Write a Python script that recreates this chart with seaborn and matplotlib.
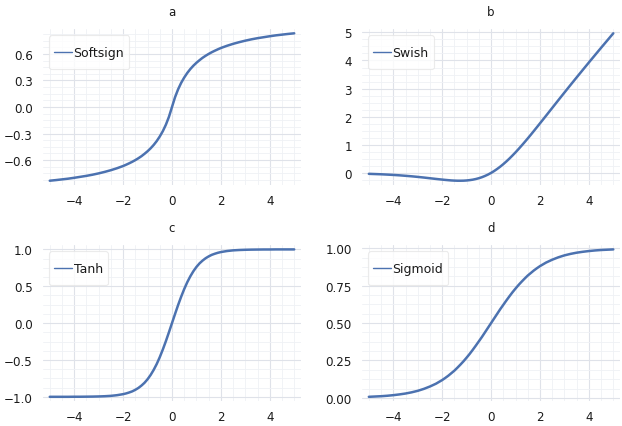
import matplotlib
matplotlib.use("Agg")
import matplotlib.pyplot as plt
from matplotlib.ticker import AutoMinorLocator
import seaborn as sns
import pandas as pd

# x positions (finer steps where they bend most)
x_vals = [-5.0, -4.75, -4.5, -4.25, -4.0, -3.75, -3.5, -3.25, -3.0, -2.75,
          -2.5, -2.25, -2.0, -1.875, -1.75, -1.625, -1.5, -1.375, -1.25, -1.125,
          -1.0, -0.875, -0.75, -0.625, -0.5, -0.375, -0.25, -0.125,
          0.0, 0.125, 0.25, 0.375, 0.5, 0.625, 0.75, 0.875,
          1.0, 1.125, 1.25, 1.375, 1.5, 1.625, 1.75, 1.875, 2.0,
          2.25, 2.5, 2.75, 3.0, 3.25, 3.5, 3.75, 4.0, 4.25, 4.5, 4.75, 5.0]

softsign = [-0.833, -0.826, -0.818, -0.810, -0.800, -0.789, -0.778, -0.765, -0.750, -0.733,
            -0.714, -0.692, -0.667, -0.652, -0.636, -0.619, -0.600, -0.579, -0.556, -0.529,
            -0.500, -0.467, -0.429, -0.385, -0.333, -0.273, -0.200, -0.111,
            0.000, 0.111, 0.200, 0.273, 0.333, 0.385, 0.429, 0.467,
            0.500, 0.529, 0.556, 0.579, 0.600, 0.619, 0.636, 0.652, 0.667,
            0.692, 0.714, 0.733, 0.750, 0.765, 0.778, 0.789, 0.800, 0.810, 0.818, 0.826, 0.833]

swish = [-0.033, -0.041, -0.049, -0.060, -0.072, -0.086, -0.103, -0.121, -0.142, -0.165,
         -0.190, -0.215, -0.238, -0.249, -0.259, -0.268, -0.274, -0.278, -0.278, -0.276,
         -0.269, -0.257, -0.241, -0.218, -0.189, -0.153, -0.109, -0.059,
         0.000, 0.066, 0.141, 0.222, 0.311, 0.407, 0.509, 0.618,
         0.731, 0.849, 0.972, 1.097, 1.226, 1.357, 1.491, 1.626, 1.762,
         2.035, 2.310, 2.585, 2.858, 3.129, 3.397, 3.663, 3.928, 4.190, 4.451, 4.709, 4.967]

tanh = [-1.000, -1.000, -1.000, -1.000, -0.999, -0.999, -0.998, -0.997, -0.995, -0.992,
        -0.987, -0.978, -0.964, -0.954, -0.941, -0.926, -0.905, -0.880, -0.848, -0.810,
        -0.762, -0.704, -0.635, -0.555, -0.462, -0.358, -0.245, -0.124,
        0.000, 0.124, 0.245, 0.358, 0.462, 0.555, 0.635, 0.704,
        0.762, 0.810, 0.848, 0.880, 0.905, 0.926, 0.941, 0.954, 0.964,
        0.978, 0.987, 0.992, 0.995, 0.997, 0.998, 0.999, 0.999, 1.000, 1.000, 1.000, 1.000]

sigmoid = [0.007, 0.009, 0.011, 0.014, 0.018, 0.023, 0.029, 0.037, 0.047, 0.060,
           0.076, 0.095, 0.119, 0.133, 0.148, 0.165, 0.182, 0.202, 0.223, 0.245,
           0.269, 0.294, 0.321, 0.349, 0.378, 0.407, 0.438, 0.469,
           0.500, 0.531, 0.562, 0.593, 0.622, 0.651, 0.679, 0.706,
           0.731, 0.755, 0.777, 0.798, 0.818, 0.835, 0.852, 0.867, 0.881,
           0.905, 0.924, 0.940, 0.953, 0.963, 0.971, 0.977, 0.982, 0.986, 0.989, 0.991, 0.993]

titles = ['a', 'b', 'c', 'd']
names = ['Softsign', 'Swish', 'Tanh', 'Sigmoid']
series = [softsign, swish, tanh, sigmoid]
yticks = [[-0.6, -0.3, 0.0, 0.3, 0.6], [0, 1, 2, 3, 4, 5],
          [-1.0, -0.5, 0.0, 0.5, 1.0], [0.0, 0.25, 0.5, 0.75, 1.0]]

sns.set_theme(style='whitegrid')
plt.rcParams['font.family'] = ['DejaVu Sans']

fig, axes = plt.subplots(2, 2, figsize=(6.22, 4.27), dpi=100)
fig.subplots_adjust(left=0.069, right=0.997, top=0.93, bottom=0.058,
                    wspace=0.236, hspace=0.383)

for ax, letter, name, vals, yt in zip(axes.flat, titles, names, series, yticks):
    df = pd.DataFrame({'x': x_vals, 'y': vals})
    sns.lineplot(data=df, x='x', y='y', ax=ax, color='#4C72B0', lw=1.8, label=name)
    ax.margins(x=0.028, y=0.03)
    ax.set_xticks([-4, -2, 0, 2, 4])
    ax.set_yticks(yt)
    ax.xaxis.set_minor_locator(AutoMinorLocator(4))
    ax.yaxis.set_minor_locator(AutoMinorLocator(4))
    ax.grid(which='major', color='#dfe2e9', lw=0.8)
    ax.grid(which='minor', color='#eff1f5', lw=0.6)
    ax.set_axisbelow(True)
    for s in ax.spines.values():
        s.set_visible(False)
    ax.set_xlabel('')
    ax.set_ylabel('')
    ax.tick_params(which='both', length=0, labelsize=8.6, colors='#1a1a1a')
    ax.tick_params(axis='x', pad=6.5)
    ax.tick_params(axis='y', pad=7.3)
    ax.set_title(letter, fontsize=8.5, pad=10, color='#1a1a1a')
    leg = ax.legend(loc='upper left', fontsize=9, frameon=True, fancybox=True,
                    borderpad=0.4, handlelength=1.4, handleheight=2.6,
                    handletextpad=0.15, borderaxespad=0.5)
    leg.get_frame().set_edgecolor('#e6e6e6')
    leg.get_frame().set_linewidth(0.8)
    for t in leg.get_texts():
        t.set_color('#1a1a1a')
    for h in leg.get_lines():
        h.set_linewidth(1.0)
        # tall handle box pushes the sample line up; bring it level with the text
        h.set_ydata([y - 2.6 for y in h.get_ydata()])

fig.savefig('out.png', dpi=100)
